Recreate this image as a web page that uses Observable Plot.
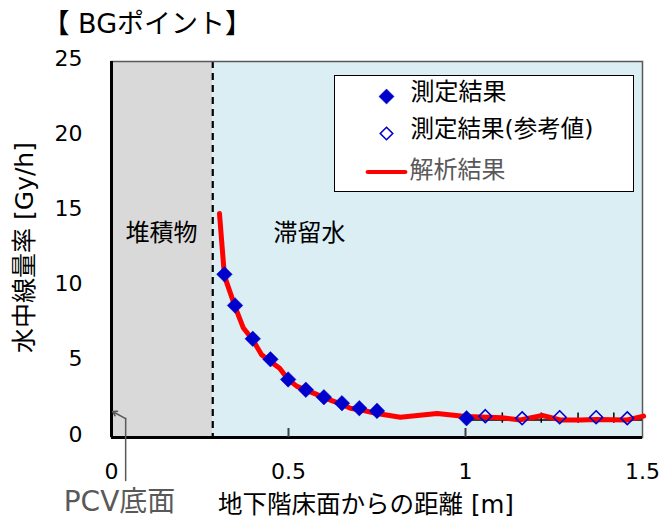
<!DOCTYPE html>
<html>
<head>
<meta charset="utf-8">
<script src="https://cdn.jsdelivr.net/npm/d3@7"></script>
<script src="https://cdn.jsdelivr.net/npm/@observablehq/plot@0.6"></script>
<style>
  html, body { margin: 0; padding: 0; background: #fff; }
</style>
</head>
<body>
<div id="chart"></div>
<script>
// ---- data ----
const measuredX = [0.319, 0.349, 0.399, 0.449, 0.499, 0.549, 0.600, 0.651, 0.700, 0.750, 1.003];
const measuredY = [10.85, 8.78, 6.56, 5.2, 3.86, 3.17, 2.68, 2.28, 1.95, 1.77, 1.28];
const refX = [1.056, 1.160, 1.266, 1.369, 1.457];
const refY = [1.42, 1.28, 1.35, 1.35, 1.28];
const calcX = [0.305, 0.319, 0.349, 0.372, 0.399, 0.424, 0.449, 0.475, 0.499, 0.524, 0.549, 0.576, 0.600, 0.628, 0.651, 0.675, 0.700, 0.750, 0.816, 0.920, 1.000, 1.104, 1.155, 1.217, 1.268, 1.325, 1.370, 1.457, 1.503];
const calcY = [14.9, 10.75, 8.7, 7.3, 6.5, 5.5, 5.05, 4.6, 3.85, 3.4, 3.15, 2.9, 2.65, 2.4, 2.2, 1.95, 1.85, 1.6, 1.35, 1.6, 1.4, 1.31, 1.17, 1.46, 1.17, 1.17, 1.2, 1.17, 1.42];
const boundaryX = 0.286;
const xTicks = [0, 0.5, 1, 1.5];
const yTicks = [0, 5, 10, 15, 20, 25];
const innerXTicks = [0.5, 1];
const subAxisTicks = [1.104, 1.214, 1.318, 1.419];
const regions = [
  {x1: 0, x2: boundaryX, fill: "#d9d9d9"},
  {x1: boundaryX, x2: 1.5, fill: "#daeef3"}
];
const regionLabels = [
  {x: 0.141, y: 13.6, text: "堆積物"},
  {x: 0.559, y: 13.6, text: "滞留水"}
];
const pcvArrowShaft = [{x: 0.04, y: -2.86}, {x: 0.04, y: 1.26}];
const pcvArrowHead = [{x1: 0.04, y1: 1.26, x2: 0.003, y2: 1.73}];

const measured = measuredX.map((x, i) => ({x, y: measuredY[i]}));
const reference = refX.map((x, i) => ({x, y: refY[i]}));
const calc = calcX.map((x, i) => ({x, y: calcY[i]}));

const BLUE = "#0000cc";
const RED = "#ff0000";
const GRAY = "#595959";
const FONT = "'DejaVu Sans','Noto Sans CJK JP',sans-serif";

const chart = Plot.plot({
  width: 663,
  height: 520,
  marginTop: 61,
  marginBottom: 83,
  marginLeft: 111,
  marginRight: 21,
  x: {domain: [0, 1.5]},
  y: {domain: [0, 25]},
  style: {fontFamily: FONT, background: "#fff", color: "#000"},
  marks: [
    Plot.rect(regions, {x1: "x1", x2: "x2", y1: 0, y2: 25, fill: "fill"}),
    Plot.ruleX([boundaryX], {stroke: "#000", strokeWidth: 2.2, strokeDasharray: "7,5"}),
    Plot.frame({stroke: GRAY, strokeWidth: 1.5}),
    Plot.ruleX([0], {stroke: "#000", strokeWidth: 3}),
    Plot.ruleY([0], {stroke: "#000", strokeWidth: 3}),
    Plot.ruleX(innerXTicks, {y1: 0, y2: 0.6, stroke: "#404040", strokeWidth: 2}),
    // secondary axis-like line under the tail
    Plot.ruleY([1.17], {x1: 1.0, x2: 1.5, stroke: "#000", strokeWidth: 1.5}),
    Plot.ruleX(subAxisTicks, {y1: 0.95, y2: 1.63, stroke: "#000", strokeWidth: 1.5}),
    Plot.line(calc, {x: "x", y: "y", stroke: RED, strokeWidth: 5, curve: "linear", strokeLinejoin: "round"}),
    Plot.dot(measured, {x: "x", y: "y", symbol: "diamond2", r: 7, fill: BLUE, stroke: BLUE, strokeWidth: 0.5}),
    Plot.dot(reference, {x: "x", y: "y", symbol: "diamond2", r: 5.8, fill: "none", stroke: BLUE, strokeWidth: 1.6}),
    Plot.text(regionLabels, {x: "x", y: "y", text: "text", fontSize: 24, fill: "#000"}),
    // PCV bottom annotation
    Plot.line(pcvArrowShaft, {x: "x", y: "y", stroke: GRAY, strokeWidth: 1.5}),
    Plot.arrow(pcvArrowHead, {x1: "x1", y1: "y1", x2: "x2", y2: "y2", stroke: GRAY, strokeWidth: 1.5, headLength: 14, headAngle: 62}),
    Plot.text(["PCV底面"], {frameAnchor: "bottom-left", dx: 8, dy: 65, fontSize: 28, fill: GRAY, textAnchor: "middle", lineAnchor: "middle"}),
    // axes
    Plot.axisX({ticks: xTicks, tickFormat: d => String(d), tickSize: 0, tickPadding: 26, fontSize: 22, label: null}),
    Plot.axisY({ticks: yTicks, tickFormat: d => String(d), tickSize: 0, tickPadding: 29, fontSize: 22, dy: -3, label: null}),
    Plot.text(["地下階床面からの距離 [m]"], {frameAnchor: "bottom", dx: -11, dy: 68, fontSize: 24.5, fill: "#000", lineAnchor: "middle"}),
    Plot.text(["水中線量率 [Gy/h]"], {frameAnchor: "left", dx: -87, dy: -2, rotate: -90, fontSize: 25, fill: "#000", textAnchor: "middle", lineAnchor: "middle"}),
    Plot.text(["【 BGポイント】"], {frameAnchor: "top-left", dx: -69, dy: -37, textAnchor: "start", lineAnchor: "middle", fontSize: 27, fill: "#000"}),
    // legend
    Plot.frame({fill: "#fff", stroke: "#000", strokeWidth: 1, insetLeft: 223, insetRight: 9, insetTop: 14, insetBottom: 246}),
    Plot.dot([0], {frameAnchor: "top-left", dx: 275, dy: 35, symbol: "diamond2", r: 6.8, fill: BLUE, stroke: BLUE, strokeWidth: 0.5}),
    Plot.dot([0], {frameAnchor: "top-left", dx: 275, dy: 72, symbol: "diamond2", r: 5.6, fill: "none", stroke: BLUE, strokeWidth: 1.6}),
    Plot.frame({fill: RED, stroke: "none", insetLeft: 254, insetRight: 235, insetTop: 108.5, insetBottom: 263.5, rx: 2.5}),
    Plot.text(["測定結果"], {frameAnchor: "top-left", dx: 299, dy: 31, textAnchor: "start", lineAnchor: "middle", fontSize: 24, fill: "#000"}),
    Plot.text(["測定結果(参考値)"], {frameAnchor: "top-left", dx: 299, dy: 68, textAnchor: "start", lineAnchor: "middle", fontSize: 23.5, fill: "#000"}),
    Plot.text(["解析結果"], {frameAnchor: "top-left", dx: 298, dy: 109, textAnchor: "start", lineAnchor: "middle", fontSize: 24, fill: GRAY})
  ]
});
document.getElementById("chart").appendChild(chart);
</script>
</body>
</html>
